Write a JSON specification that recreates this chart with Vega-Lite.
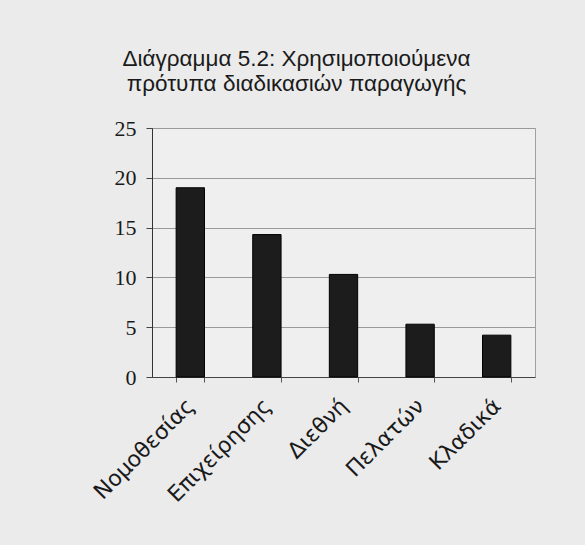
{
  "$schema": "https://vega.github.io/schema/vega-lite/v6.json",
  "autosize": "none",
  "width": 383,
  "height": 249,
  "padding": {"left": 152, "top": 128, "right": 50, "bottom": 168},
  "background": "#ebebeb",
  "title": {
    "text": ["Διάγραμμα 5.2: Χρησιμοποιούμενα", "πρότυπα διαδικασιών παραγωγής"],
    "font": "Liberation Sans",
    "fontSize": 22.5,
    "fontWeight": "normal",
    "color": "#1a1a1a",
    "lineHeight": 25,
    "anchor": "middle",
    "dx": -47,
    "offset": 22
  },
  "data": {
    "values": [
      {"category": "Νομοθεσίας", "value": 19},
      {"category": "Επιχείρησης", "value": 14.3},
      {"category": "Διεθνή", "value": 10.3},
      {"category": "Πελατών", "value": 5.3},
      {"category": "Κλαδικά", "value": 4.2}
    ]
  },
  "mark": {"type": "bar", "color": "#1c1c1c", "stroke": "#000000", "strokeWidth": 1},
  "encoding": {
    "x": {
      "field": "category",
      "type": "nominal",
      "sort": null,
      "title": null,
      "scale": {"paddingInner": 0.63, "paddingOuter": 0.315},
      "axis": {
        "labelAngle": -45,
        "labelAlign": "right",
        "labelBaseline": "middle",
        "labelFont": "DejaVu Sans",
        "labelFontSize": 22,
        "labelColor": "#1a1a1a",
        "labelPadding": 20,
        "labelOverlap": false,
        "tickBand": "extent",
        "tickSize": 5,
        "tickColor": "#555555",
        "domainColor": "#444444",
        "grid": false
      }
    },
    "y": {
      "field": "value",
      "type": "quantitative",
      "title": null,
      "scale": {"domain": [0, 25], "nice": false},
      "axis": {
        "values": [0, 5, 10, 15, 20, 25],
        "labelFont": "Liberation Serif",
        "labelFontSize": 22,
        "labelColor": "#1a1a1a",
        "labelPadding": 10,
        "tickSize": 6,
        "tickColor": "#444444",
        "domainColor": "#333333",
        "grid": true,
        "gridColor": "#999999",
        "gridWidth": 1
      }
    }
  },
  "config": {
    "view": {"stroke": "#a0a0a0", "fill": "#efefef"}
  }
}
